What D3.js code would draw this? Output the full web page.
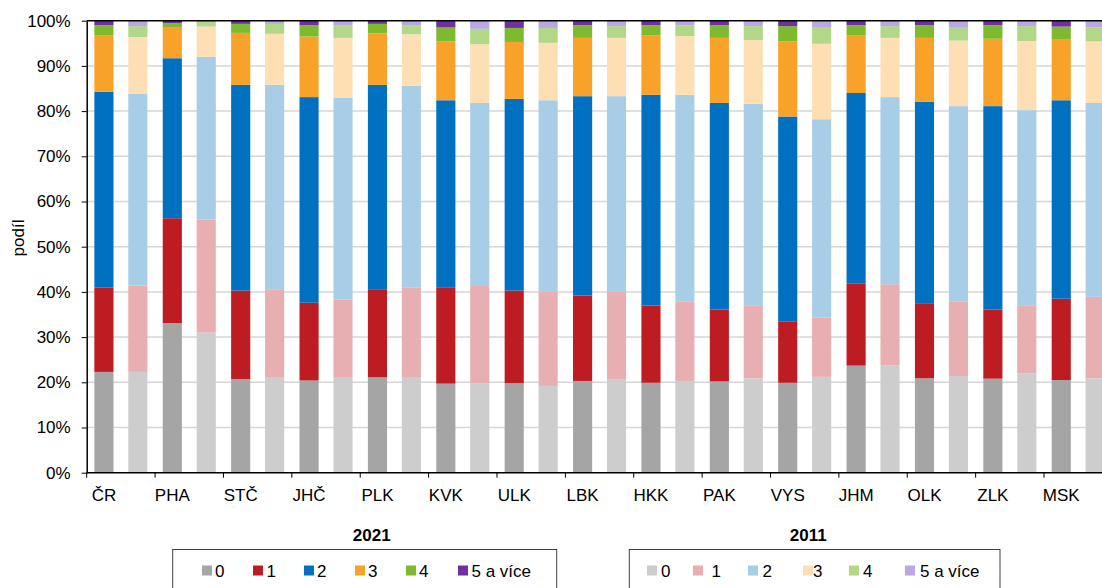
<!DOCTYPE html>
<html>
<head>
<meta charset="utf-8">
<script src="https://cdn.jsdelivr.net/npm/d3@7"></script>
<style>
  body { margin: 0; background: #fff; }
  text { font-family: "Liberation Sans", Arial, sans-serif; fill: #000; }
</style>
</head>
<body>
<div id="chart"></div>
<script>
// data (shares in %)
var regions = ["ČR", "PHA", "STČ", "JHČ", "PLK", "KVK", "ULK", "LBK", "HKK", "PAK", "VYS", "JHM", "OLK", "ZLK", "MSK"];
var categories = ["0", "1", "2", "3", "4", "5 a více"];
var years = ["2021", "2011"];

// one row per region, columns follow categories
var share2021 = [
  [22.3, 18.7, 43.3, 12.4, 2.3, 1.0],
  [33.1, 23.2, 35.4, 6.9, 0.9, 0.5],
  [20.7, 19.6, 45.5, 11.5, 2.0, 0.7],
  [20.4, 17.2, 45.5, 13.4, 2.5, 1.0],
  [21.1, 19.5, 45.2, 11.4, 2.1, 0.7],
  [19.7, 21.2, 41.5, 13.0, 3.1, 1.5],
  [19.8, 20.5, 42.4, 12.6, 3.1, 1.6],
  [20.3, 18.9, 44.1, 12.9, 2.8, 1.0],
  [19.9, 17.1, 46.6, 13.2, 2.2, 1.0],
  [20.2, 15.9, 45.7, 14.4, 2.8, 1.0],
  [19.9, 13.6, 45.3, 16.6, 3.4, 1.2],
  [23.7, 18.1, 42.2, 12.7, 2.3, 1.0],
  [20.9, 16.6, 44.6, 14.1, 2.8, 1.0],
  [20.8, 15.3, 45.0, 14.9, 3.0, 1.0],
  [20.5, 18.0, 43.9, 13.4, 2.9, 1.3]
];
var share2011 = [
  [22.3, 19.1, 42.4, 12.6, 2.4, 1.2],
  [31.0, 25.0, 36.0, 6.7, 1.0, 0.3],
  [21.0, 19.6, 45.2, 11.3, 2.2, 0.7],
  [21.0, 17.3, 44.6, 13.3, 2.7, 1.1],
  [21.0, 19.9, 44.7, 11.4, 1.9, 1.1],
  [19.8, 21.5, 40.5, 13.0, 3.4, 1.8],
  [19.2, 20.8, 42.4, 12.7, 3.3, 1.6],
  [20.7, 19.3, 43.3, 12.9, 2.6, 1.2],
  [20.3, 17.5, 45.8, 13.0, 2.4, 1.0],
  [20.9, 16.0, 44.7, 14.1, 3.1, 1.2],
  [21.2, 13.1, 43.9, 16.7, 3.7, 1.4],
  [23.7, 18.0, 41.4, 13.1, 2.6, 1.2],
  [21.4, 16.4, 43.3, 14.5, 3.0, 1.4],
  [22.0, 14.9, 43.3, 15.3, 3.3, 1.2],
  [20.9, 18.0, 42.9, 13.6, 3.1, 1.5]
];

var yTicks = [0, 10, 20, 30, 40, 50, 60, 70, 80, 90, 100];

var colors2021 = ["#a5a5a5", "#be1c23", "#0070c0", "#f9a22a", "#7dba2d", "#7030a0"];
var colors2011 = ["#cdcdcd", "#e7afb2", "#a8cde7", "#fddfb3", "#b2d787", "#bba7e3"];

var svgWidth = 1102;
var svgHeight = 588;

var plotLeft = 86.7;
var plotTop = 20.7;
var plotBottom = 472.7;
var groupStep = 68.38;

var svg = d3.select("#chart")
  .append("svg")
  .attr("width", svgWidth)
  .attr("height", svgHeight);

// scales
var x0 = d3.scaleBand()
  .domain(regions)
  .range([plotLeft, plotLeft + groupStep * regions.length]);

var x1 = d3.scaleBand()
  .domain(years)
  .range([0, groupStep])
  .paddingInner(0.436)
  .paddingOuter(0.226);

var y = d3.scaleLinear()
  .domain([0, 100])
  .range([plotBottom, plotTop]);

// gridlines
svg.append("g")
  .selectAll("line")
  .data(yTicks.slice(1, -1))
  .enter()
  .append("line")
  .attr("x1", plotLeft)
  .attr("x2", svgWidth)
  .attr("y1", d => y(d))
  .attr("y2", d => y(d))
  .attr("stroke", "#d6d6d6")
  .attr("stroke-width", 1.5);

// stacked bars, one stack per year
var stack = d3.stack()
  .keys(d3.range(categories.length))
  .value((row, k) => row[k]);

function drawYear(year, rows, colors) {
  var series = stack(rows.map((r, i) => Object.assign(r.slice(), { region: regions[i] })));
  var g = svg.append("g").attr("class", "year-" + year);
  g.selectAll("g")
    .data(series)
    .enter()
    .append("g")
    .attr("fill", (s, k) => colors[k])
    .selectAll("rect")
    .data(s => s)
    .enter()
    .append("rect")
    .attr("x", d => x0(d.data.region) + x1(year))
    .attr("width", x1.bandwidth())
    .attr("y", d => y(d[1]))
    .attr("height", d => y(d[0]) - y(d[1]));
}

drawYear("2021", share2021, colors2021);
drawYear("2011", share2011, colors2011);

// y axis
var leftAxis = d3.axisLeft(y)
  .tickValues(yTicks)
  .tickFormat(d => d + "%")
  .tickSizeInner(5)
  .tickSizeOuter(0)
  .tickPadding(11);

var yAxis = svg.append("g")
  .attr("transform", `translate(${plotLeft}, 0)`)
  .call(leftAxis);
yAxis.select(".domain").attr("stroke", "#000").attr("stroke-width", 1.5);
yAxis.selectAll(".tick line").attr("stroke", "#000");
yAxis.selectAll("text")
  .style("font-size", "17px")
  .style("font-family", "'Liberation Sans', Arial, sans-serif");

// top frame line
svg.append("line")
  .attr("x1", plotLeft)
  .attr("x2", svgWidth)
  .attr("y1", plotTop)
  .attr("y2", plotTop)
  .attr("stroke", "#000")
  .attr("stroke-width", 1.5);

// x axis: labels sit under the 2021 bar of each group
var bottomAxis = d3.axisBottom(x0)
  .tickSize(0)
  .tickPadding(16);

var xAxis = svg.append("g")
  .attr("transform", `translate(0, ${plotBottom})`)
  .call(bottomAxis);
xAxis.select(".domain").remove();
xAxis.selectAll(".tick")
  .attr("transform", d => `translate(${x0(d) + x1("2021") + x1.bandwidth() / 2}, 0)`);
xAxis.selectAll("text")
  .style("font-size", "17px")
  .style("font-family", "'Liberation Sans', Arial, sans-serif");

svg.append("line")
  .attr("x1", plotLeft)
  .attr("x2", svgWidth)
  .attr("y1", plotBottom)
  .attr("y2", plotBottom)
  .attr("stroke", "#000")
  .attr("stroke-width", 1.5);

svg.append("g")
  .selectAll("line")
  .data(regions)
  .enter()
  .append("line")
  .attr("x1", d => x0(d))
  .attr("x2", d => x0(d))
  .attr("y1", plotBottom)
  .attr("y2", plotBottom + 5)
  .attr("stroke", "#000")
  .attr("stroke-width", 1);

// y axis title
svg.append("text")
  .attr("transform", "translate(24, 238) rotate(-90)")
  .attr("text-anchor", "middle")
  .style("font-size", "17px")
  .text("podíl");

// legends
var legend2021 = { title: "2021", titleX: 371.7, box: [172.7, 556.7],
  squares: [202, 253, 304, 355, 406, 458], labels: [215, 266.5, 317, 368, 419, 471.5] };
var legend2011 = { title: "2011", titleX: 808.3, box: [629.3, 1000],
  squares: [647, 693, 748, 803, 849, 905], labels: [661, 711.5, 762.5, 813, 863, 920] };

function drawLegend(cfg, colors) {
  var g = svg.append("g");
  g.append("text")
    .attr("x", cfg.titleX)
    .attr("y", 541)
    .attr("text-anchor", "middle")
    .style("font-size", "17px")
    .style("font-weight", "bold")
    .text(cfg.title);

  g.append("rect")
    .attr("x", cfg.box[0])
    .attr("y", 549.5)
    .attr("width", cfg.box[1] - cfg.box[0])
    .attr("height", 60)
    .attr("fill", "none")
    .attr("stroke", "#404040")
    .attr("stroke-width", 1);

  g.selectAll("rect.key")
    .data(categories)
    .enter()
    .append("rect")
    .attr("class", "key")
    .attr("x", (d, i) => cfg.squares[i])
    .attr("y", 565.5)
    .attr("width", 10)
    .attr("height", 10)
    .attr("fill", (d, i) => colors[i]);

  g.selectAll("text.key")
    .data(categories)
    .enter()
    .append("text")
    .attr("class", "key")
    .attr("x", (d, i) => cfg.labels[i])
    .attr("y", 576.5)
    .style("font-size", "17px")
    .text(d => d);
}

drawLegend(legend2021, colors2021);
drawLegend(legend2011, colors2011);
</script>
</body>
</html>
